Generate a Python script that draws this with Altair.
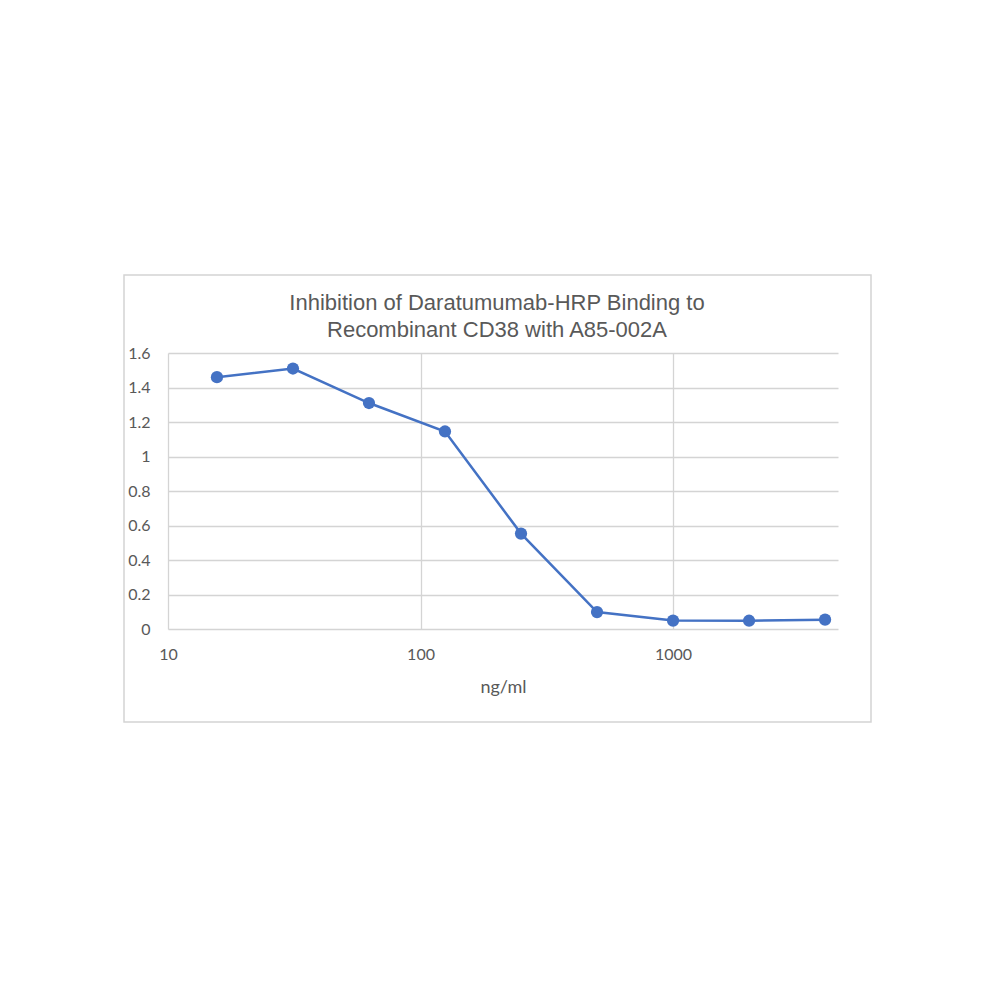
import altair as alt
import pandas as pd

concentration = [15.625, 31.25, 62.5, 125, 250, 500, 1000, 2000, 4000]
signal = [1.46, 1.51, 1.31, 1.145, 0.553, 0.098, 0.049, 0.048, 0.054]
x_ticks = [10, 100, 1000]
y_ticks = [0, 0.2, 0.4, 0.6, 0.8, 1.0, 1.2, 1.4, 1.6]
title_lines = ["Inhibition  of Daratumumab-HRP Binding  to", "Recombinant CD38 with  A85-002A"]

df = pd.DataFrame({"conc": concentration, "od": signal})

BLUE = "#4472C4"
GREY = "#595959"
GRID = "#d4d4d4"

x_enc = alt.X(
    "conc:Q",
    scale=alt.Scale(type="log", domain=[10, 4500], nice=False),
    axis=alt.Axis(
        values=x_ticks, format="d", title="ng/ml", grid=True, gridColor=GRID,
        gridWidth=1.3, domain=False, ticks=False, labelPadding=17,
        labelFlush=False, labelOverlap=False,
        labelFont="Lato", labelFontSize=16, labelColor=GREY,
        titleFont="Lato", titleFontSize=18, titleColor=GREY,
        titleFontWeight="normal", titlePadding=16,
    ),
)
y_enc = alt.Y(
    "od:Q",
    scale=alt.Scale(domain=[0, 1.6], nice=False),
    axis=alt.Axis(
        values=y_ticks, format=".1~f", title=None, grid=True, gridColor=GRID,
        gridWidth=1.3, domain=False, ticks=False, labelPadding=18,
        labelFlush=False, labelOverlap=False, tickCount=9,
        labelFont="Lato", labelFontSize=16, labelColor=GREY,
    ),
)

base = alt.Chart(df).encode(x=x_enc, y=y_enc)
line = base.mark_line(color=BLUE, strokeWidth=2.5)
pts = base.mark_point(filled=True, color=BLUE, size=150, opacity=1)

frame = alt.Chart(alt.Data(values=[{}])).mark_rect(
    fill=None, stroke=GRID, strokeWidth=1.5, clip=False
).encode(
    x=alt.value(-44), x2=alt.value(703), y=alt.value(-78), y2=alt.value(369)
)

chart = alt.layer(frame, line, pts).properties(
    width=670,
    height=276,
    padding={"left": 160, "top": 345, "right": 60, "bottom": 110},
    autosize=alt.AutoSizeParams(type="none"),
    title=alt.Title(
        title_lines, font="Liberation Sans", fontSize=22, fontWeight="normal",
        color=GREY, anchor="middle", dx=-6, dy=82, offset=14, lineHeight=27,
    ),
).configure_view(stroke=None)

chart.save("out.html", embed_options={"renderer": "svg", "actions": False})
